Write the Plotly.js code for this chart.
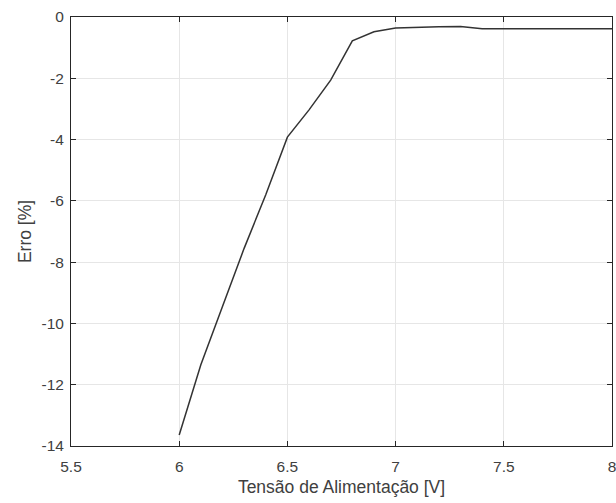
<!DOCTYPE html>
<html>
<head>
<meta charset="utf-8">
<script src="https://cdn.plot.ly/plotly-3.0.1.min.js"></script>
<style>html,body{margin:0;padding:0;background:#fff;}#chart{width:616px;height:503px;}</style>
</head>
<body>
<div id="chart"></div>
<script>
const tensao = [6.0, 6.1, 6.2, 6.3, 6.4, 6.5, 6.6, 6.7, 6.8, 6.9, 7.0, 7.1, 7.2, 7.3, 7.4, 7.5, 7.6, 7.7, 7.8, 7.9, 8.0];
const erro = [-13.64, -11.35, -9.45, -7.55, -5.8, -3.92, -3.03, -2.06, -0.78, -0.48, -0.36, -0.33, -0.32, -0.31, -0.38, -0.38, -0.38, -0.38, -0.38, -0.38, -0.38];
const xTicks = [5.5, 6, 6.5, 7, 7.5, 8];
const yTicks = [0, -2, -4, -6, -8, -10, -12, -14];

const FONT = 'Liberation Sans, Arial, sans-serif';
const axisCommon = {
  showline: true, linecolor: '#262626', linewidth: 1, mirror: 'allticks',
  ticks: 'inside', ticklen: 5, tickcolor: '#262626',
  showgrid: true, gridcolor: '#e6e6e6', gridwidth: 1,
  zeroline: false, ticklabeloverflow: 'allow',
  tickfont: {family: FONT, size: 15.5, color: '#404040'}
};

Plotly.newPlot('chart', [{
  x: tensao, y: erro, type: 'scatter', mode: 'lines',
  line: {color: '#333333', width: 1.5}
}], {
  width: 616, height: 503,
  margin: {l: 71, r: 4, t: 17, b: 57},
  paper_bgcolor: '#fff', plot_bgcolor: '#fff',
  showlegend: false,
  xaxis: Object.assign({}, axisCommon, {
    range: [5.5, 8], tickvals: xTicks, ticktext: xTicks.map(String),
    ticklabelstandoff: 6,
    title: {text: 'Tensão de Alimentação [V]', standoff: 7,
      font: {family: FONT, size: 17.5, color: '#404040'}}
  }),
  yaxis: Object.assign({}, axisCommon, {
    range: [-14, 0], tickvals: yTicks, ticktext: yTicks.map(String),
    ticklabelstandoff: 3,
    title: {text: 'Erro [%]', standoff: 5,
      font: {family: FONT, size: 17.5, color: '#404040'}}
  })
}, {displayModeBar: false, staticPlot: true});
</script>
</body>
</html>
